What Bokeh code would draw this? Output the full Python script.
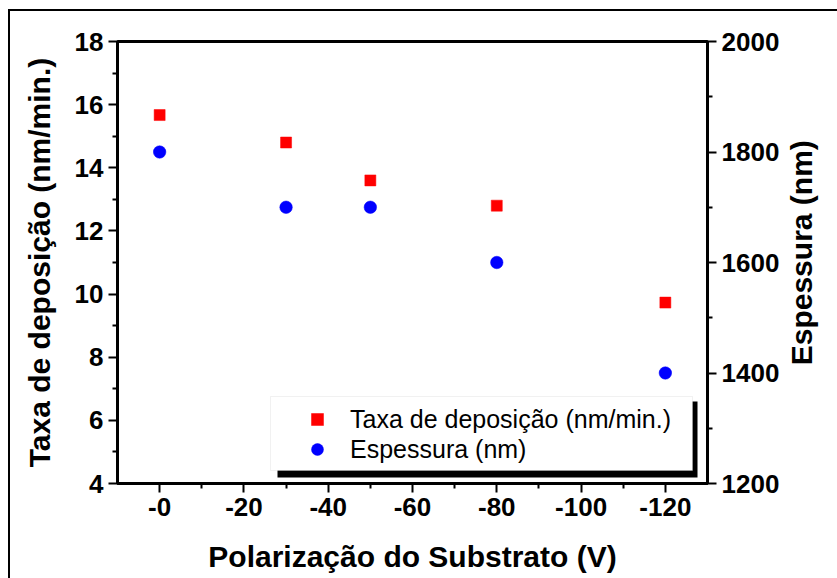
import math
from bokeh.plotting import figure
from bokeh.models import (Range1d, LinearAxis, FixedTicker, Legend, LegendItem,
                          BoxAnnotation)
from bokeh.embed import file_html
from bokeh.resources import INLINE

# Substrate bias (V) and measured values
bias_v = [0, -30, -50, -80, -120]
taxa_deposicao = [15.67, 14.8, 13.6, 12.8, 9.73]      # nm/min
espessura_nm = [1800, 1700, 1700, 1600, 1400]        # nm

x_ticks = [0, -20, -40, -60, -80, -100, -120]
x_tick_labels = ["-0", "-20", "-40", "-60", "-80", "-100", "-120"]
x_minor = [-10, -30, -50, -70, -90, -110]
y_left_ticks = [4, 6, 8, 10, 12, 14, 16, 18]
y_left_minor = [5, 7, 9, 11, 13, 15, 17]
y_right_ticks = [1200, 1400, 1600, 1800, 2000]
y_right_minor = [1300, 1500, 1700, 1900]

FONT = "Liberation Sans"
RIGHT_TITLE = "Espessura (nm)"
RIGHT_TITLE_START = 1414   # thickness-axis level where the rotated right title begins

p = figure(width=837, height=578, x_range=Range1d(10, -130), y_range=Range1d(4, 18),
           output_backend="svg", toolbar_location=None,
           min_border_left=117, min_border_right=125, min_border_top=41, min_border_bottom=95)
p.extra_y_ranges = {"esp": Range1d(1200, 2000)}
p.xgrid.visible = False
p.ygrid.visible = False
p.background_fill_color = "white"
# transparent canvas border so the page frame lines drawn by CSS show through
p.border_fill_alpha = 0
p.styles = {
    "background": ("linear-gradient(#000, #000) 8px 9px / 2px 100% no-repeat, "
                   "linear-gradient(#000, #000) 8px 9px / 100% 2px no-repeat, #fff"),
}
p.outline_line_color = "black"
p.outline_line_width = 3
p.outline_line_alpha = 1.0


def style_axis(ax, major, minor, title):
    ax.ticker = FixedTicker(ticks=major, minor_ticks=minor)
    ax.axis_label = title
    ax.axis_label_text_font = FONT
    ax.axis_label_text_font_style = "bold"
    ax.axis_label_text_font_size = "30px"
    ax.axis_label_text_color = "black"
    ax.major_label_text_font = FONT
    ax.major_label_text_font_style = "bold"
    ax.major_label_text_font_size = "26px"
    ax.major_label_text_color = "black"
    ax.axis_line_width = 3
    ax.axis_line_color = "black"
    ax.major_tick_line_width = 2
    ax.minor_tick_line_width = 2
    ax.major_tick_out = 9
    ax.major_tick_in = 0
    ax.minor_tick_out = 5
    ax.minor_tick_in = 0


xa = p.xaxis[0]
style_axis(xa, x_ticks, x_minor, "Polarização do Substrato (V)")
xa.major_label_overrides = {t: l for t, l in zip(x_ticks, x_tick_labels)}
xa.major_label_standoff = 5
xa.axis_label_standoff = 21
xa.axis_label_text_line_height = 0.9

ya = p.yaxis[0]
style_axis(ya, y_left_ticks, y_left_minor, "Taxa de deposição (nm/min.)")
ya.major_label_standoff = 5
ya.axis_label_standoff = 16

yr = LinearAxis(y_range_name="esp")
style_axis(yr, y_right_ticks, y_right_minor, "")
yr.major_label_standoff = 5
p.add_layout(yr, "right")

# a bare axis carrying a single rotated label as the right-hand title (reads bottom to top)
title_r = LinearAxis(y_range_name="esp",
                     ticker=FixedTicker(ticks=[RIGHT_TITLE_START], minor_ticks=[]),
                     major_label_overrides={RIGHT_TITLE_START: RIGHT_TITLE},
                     major_label_orientation=math.pi / 2,
                     major_label_standoff=19,
                     major_label_text_font=FONT, major_label_text_font_style="bold",
                     major_label_text_font_size="30px", major_label_text_color="black",
                     axis_line_alpha=0, major_tick_line_alpha=0, minor_tick_line_alpha=0,
                     major_tick_out=0, major_tick_in=0, minor_tick_out=0, minor_tick_in=0)
p.add_layout(title_r, "right")

r_taxa = p.scatter(bias_v, taxa_deposicao, marker="square", size=11,
                   fill_color="#ff0000", line_color="#ff0000", line_width=0.5)
r_esp = p.scatter(bias_v, espessura_nm, marker="circle", size=12.5, y_range_name="esp",
                  fill_color="#0000ff", line_color="#0000ff", line_width=0.5)

# legend box with drop shadow
p.add_layout(BoxAnnotation(left=277, top=401, right=697, bottom=477,
                           left_units="canvas", right_units="canvas",
                           top_units="canvas", bottom_units="canvas",
                           fill_color="black", fill_alpha=1, line_alpha=0))
p.add_layout(BoxAnnotation(left=270, top=396, right=692, bottom=470,
                           left_units="canvas", right_units="canvas",
                           top_units="canvas", bottom_units="canvas",
                           fill_color="white", fill_alpha=1,
                           line_color="#d0d0d0", line_width=1))

legend = Legend(items=[LegendItem(label="Taxa de deposição (nm/min.)", renderers=[r_taxa]),
                       LegendItem(label="Espessura (nm)", renderers=[r_esp])],
                location=(175, 9), glyph_width=30, glyph_height=30, label_height=30,
                spacing=0, padding=10, label_standoff=18,
                label_text_font=FONT, label_text_font_size="25px", label_text_color="black",
                background_fill_alpha=0, border_line_alpha=0)
p.add_layout(legend, "center")

open("out.html", "w").write(file_html(p, INLINE))
